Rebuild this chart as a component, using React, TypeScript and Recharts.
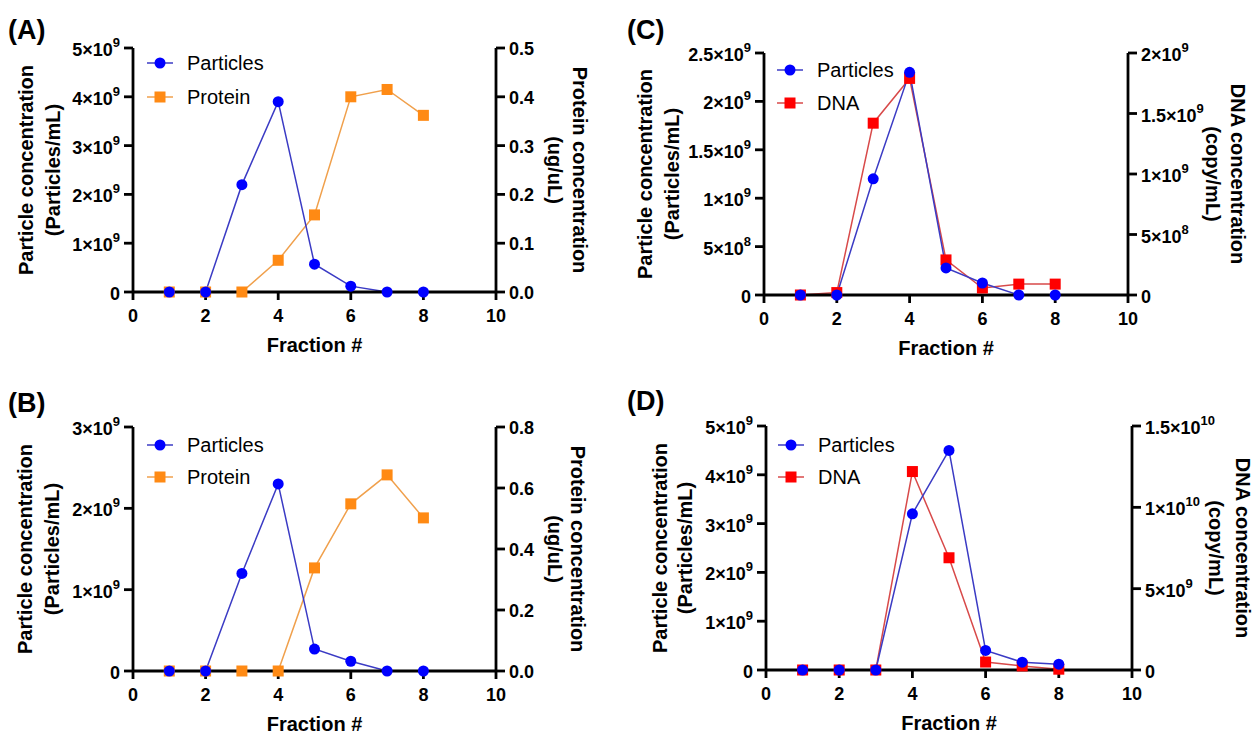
import React from 'react';
import { LineChart, Line, XAxis, YAxis } from 'recharts';

const FONT = '"Liberation Sans", Arial, Helvetica, sans-serif';

// ---------- data ----------
const fractions = [1, 2, 3, 4, 5, 6, 7, 8];
const xTicks = [0, 2, 4, 6, 8, 10];

const aParticles = [0, 0, 2.2e9, 3.9e9, 0.57e9, 0.12e9, 0, 0];
const aProtein = [0, 0, 0, 0.065, 0.158, 0.4, 0.415, 0.362];
const aLeftTicks = [0, 1e9, 2e9, 3e9, 4e9, 5e9];
const aRightTicks = [0, 0.1, 0.2, 0.3, 0.4, 0.5];

const bParticles = [0, 0, 1.2e9, 2.3e9, 0.27e9, 0.12e9, 0, 0];
const bProtein = [0, 0, 0, 0, 0.338, 0.548, 0.643, 0.502];
const bLeftTicks = [0, 1e9, 2e9, 3e9];
const bRightTicks = [0, 0.2, 0.4, 0.6, 0.8];

const cParticles = [0, 0, 1.2e9, 2.3e9, 0.28e9, 0.124e9, 0, 0];
const cDNA = [0, 0.02e9, 1.42e9, 1.79e9, 0.29e9, 0.058e9, 0.09e9, 0.09e9];
const cLeftTicks = [0, 0.5e9, 1e9, 1.5e9, 2e9, 2.5e9];
const cRightTicks = [0, 0.5e9, 1e9, 1.5e9, 2e9];

const dParticles = [0, 0, 0, 3.2e9, 4.5e9, 0.4e9, 0.16e9, 0.12e9];
const dDNA = [0, 0, 0, 1.22e10, 6.9e9, 0.49e9, 0.25e9, 0.05e9];
const dLeftTicks = [0, 1e9, 2e9, 3e9, 4e9, 5e9];
const dRightTicks = [0, 5e9, 1e10, 1.5e10];

const PART_MARK = '#0000ff';
const PART_LINE = '#3b3bc4';
const PROT_MARK = '#ff8a14';
const PROT_LINE = '#f0a04c';
const DNA_MARK = '#ff0000';
const DNA_LINE = '#d84a4a';

function buildRows(p: number[], q: number[]) {
  return fractions.map((f, i) => ({ x: f, p: p[i], q: q[i] }));
}

function sciParts(v: number) {
  if (v === 0) return { base: '0', exp: '' };
  const exp = Math.floor(Math.log10(v) + 1e-9);
  const mant = Math.round((v / Math.pow(10, exp)) * 10) / 10;
  return { base: `${mant}×10`, exp: String(exp) };
}

const YTick = (props: any) => {
  const { x, y, payload, side, fmt } = props;
  const v = payload.value;
  const anchor = side === 'left' ? 'end' : 'start';
  const tx = side === 'left' ? x - 2 : x + 2;
  if (fmt === 'fixed') {
    return (
      <text x={tx} y={y + 1} textAnchor={anchor} dominantBaseline="central" fontFamily={FONT} fontWeight={700} fontSize={18} fill="#000">
        {Number(v).toFixed(1)}
      </text>
    );
  }
  const { base, exp } = sciParts(v);
  return (
    <text x={tx} y={y + 2} textAnchor={anchor} dominantBaseline="central" fontFamily={FONT} fontWeight={700} fontSize={18} fill="#000">
      <tspan>{base}</tspan>
      {exp ? (
        <tspan dy={-8} fontSize={13}>
          {exp}
        </tspan>
      ) : null}
    </text>
  );
};

const XTick = (props: any) => {
  const { x, y, payload } = props;
  return (
    <text x={x} y={y + 14} textAnchor="middle" dominantBaseline="central" fontFamily={FONT} fontWeight={700} fontSize={18} fill="#000">
      {payload.value}
    </text>
  );
};

const circleDot = (props: any) => {
  const { cx, cy, index } = props;
  if (cx == null || cy == null) return <g key={`c${index}`} />;
  return <circle key={`c${index}`} cx={cx} cy={cy} r={5.5} fill={PART_MARK} stroke="none" />;
};

const makeSquareDot = (color: string) => (props: any) => {
  const { cx, cy, index } = props;
  if (cx == null || cy == null) return <g key={`s${index}`} />;
  return <rect key={`s${index}`} x={cx - 5.5} y={cy - 5.5} width={11} height={11} fill={color} stroke="none" />;
};

const TwoLineTitle = (props: any) => {
  const { viewBox, lines, offs, side } = props;
  const vb = viewBox || { x: 0, y: 0, width: 0, height: 0 };
  const edge = side === 'left' ? vb.x + vb.width : vb.x;
  const cy = vb.y + vb.height / 2;
  const rot = side === 'left' ? -90 : 90;
  return (
    <g>
      {lines.map((ln: string, i: number) => {
        const cx = edge + offs[i];
        return (
          <text
            key={i}
            x={cx}
            y={cy}
            transform={`rotate(${rot} ${cx} ${cy})`}
            textAnchor="middle"
            dominantBaseline="central"
            fontFamily={FONT}
            fontWeight={700}
            fontSize={20}
            fill="#000"
          >
            {ln}
          </text>
        );
      })}
    </g>
  );
};

const XTitle = (props: any) => {
  const { viewBox } = props;
  const vb = viewBox || { x: 0, y: 0, width: 0, height: 0 };
  return (
    <text x={vb.x + vb.width / 2} y={vb.y + 53} textAnchor="middle" dominantBaseline="central" fontFamily={FONT} fontWeight={700} fontSize={20} fill="#000">
      Fraction #
    </text>
  );
};

type PanelProps = {
  letter: string;
  letterPos: [number, number];
  rows: any[];
  box: { left: number; top: number; width: number; height: number };
  margin: { top: number; right: number; bottom: number; left: number };
  leftTicks: number[];
  rightTicks: number[];
  rightFmt: 'fixed' | 'sci';
  qName: string;
  qMark: string;
  qLine: string;
  leftTitle: string[];
  leftOffs: number[];
  rightTitle: string[];
  rightOffs: number[];
  legend: { x: number; y: number; gap: number };
};

const LegendItem = ({ x, y, color, lineColor, shape, label }: any) => (
  <div style={{ position: 'absolute', left: x - 15, top: y - 13, height: 26, display: 'flex', alignItems: 'center' }}>
    <svg width={30} height={26} style={{ display: 'block' }}>
      <line x1={2} y1={13} x2={28} y2={13} stroke={lineColor} strokeWidth={1.5} />
      {shape === 'circle' ? (
        <circle cx={15} cy={13} r={5.5} fill={color} />
      ) : (
        <rect x={9.5} y={7.5} width={11} height={11} fill={color} />
      )}
    </svg>
    <span style={{ marginLeft: 12, fontFamily: FONT, fontSize: 20, color: '#000', whiteSpace: 'nowrap', lineHeight: '26px' }}>{label}</span>
  </div>
);

const AXIS_W = 2.8;

const Panel = (p: PanelProps) => {
  const qDot = makeSquareDot(p.qMark);
  const leftMax = p.leftTicks[p.leftTicks.length - 1];
  const rightMax = p.rightTicks[p.rightTicks.length - 1];
  return (
    <>
      <div style={{ position: 'absolute', left: p.box.left, top: p.box.top, width: p.box.width, height: p.box.height }}>
        <LineChart width={p.box.width} height={p.box.height} data={p.rows} margin={p.margin}>
          <XAxis
            dataKey="x"
            type="number"
            domain={[0, 10]}
            ticks={xTicks}
            height={60}
            interval={0}
            tick={<XTick />}
            tickSize={8}
            axisLine={{ stroke: '#000', strokeWidth: AXIS_W }}
            tickLine={{ stroke: '#000', strokeWidth: AXIS_W }}
            label={{ content: (lp: any) => <XTitle {...lp} /> }}
          />
          <YAxis
            yAxisId="left"
            orientation="left"
            width={60}
            domain={[0, leftMax]}
            ticks={p.leftTicks}
            interval={0}
            tick={<YTick side="left" fmt="sci" />}
            tickSize={9}
            axisLine={{ stroke: '#000', strokeWidth: AXIS_W }}
            tickLine={{ stroke: '#000', strokeWidth: AXIS_W }}
            label={{ content: (lp: any) => <TwoLineTitle {...lp} lines={p.leftTitle} offs={p.leftOffs} side="left" /> }}
          />
          <YAxis
            yAxisId="right"
            orientation="right"
            width={60}
            domain={[0, rightMax]}
            ticks={p.rightTicks}
            interval={0}
            tick={<YTick side="right" fmt={p.rightFmt} />}
            tickSize={9}
            axisLine={{ stroke: '#000', strokeWidth: AXIS_W }}
            tickLine={{ stroke: '#000', strokeWidth: AXIS_W }}
            label={{ content: (lp: any) => <TwoLineTitle {...lp} lines={p.rightTitle} offs={p.rightOffs} side="right" /> }}
          />
          <Line
            yAxisId="right"
            type="linear"
            dataKey="q"
            name={p.qName}
            stroke={p.qLine}
            strokeWidth={1.5}
            dot={qDot}
            activeDot={false}
            isAnimationActive={false}
          />
          <Line
            yAxisId="left"
            type="linear"
            dataKey="p"
            name="Particles"
            stroke={PART_LINE}
            strokeWidth={1.5}
            dot={circleDot}
            activeDot={false}
            isAnimationActive={false}
          />
        </LineChart>
      </div>
      <div
        style={{
          position: 'absolute',
          left: p.letterPos[0],
          top: p.letterPos[1],
          fontFamily: FONT,
          fontWeight: 700,
          fontSize: 27,
          lineHeight: '32px',
          color: '#000',
        }}
      >
        {p.letter}
      </div>
      <LegendItem x={p.legend.x} y={p.legend.y} color={PART_MARK} lineColor={PART_LINE} shape="circle" label="Particles" />
      <LegendItem x={p.legend.x} y={p.legend.y + p.legend.gap} color={p.qMark} lineColor={p.qLine} shape="square" label={p.qName} />
    </>
  );
};

export default function App() {
  return (
    <div style={{ position: 'absolute', left: 0, top: 0, width: 1253, height: 734, background: '#fff', overflow: 'hidden' }}>
      <Panel
        letter="(A)"
        letterPos={[8, 14]}
        rows={buildRows(aParticles, aProtein)}
        box={{ left: 0, top: 0, width: 620, height: 360 }}
        margin={{ top: 48, right: 64, bottom: 8, left: 73 }}
        leftTicks={aLeftTicks}
        rightTicks={aRightTicks}
        rightFmt="fixed"
        qName="Protein"
        qMark={PROT_MARK}
        qLine={PROT_LINE}
        leftTitle={['Particle concentration', '(Particles/mL)']}
        leftOffs={[-107, -80]}
        rightTitle={['Protein concentration', '(ug/uL)']}
        rightOffs={[84, 59]}
        legend={{ x: 160, y: 63, gap: 34 }}
      />
      <Panel
        letter="(B)"
        letterPos={[8, 387]}
        rows={buildRows(bParticles, bProtein)}
        box={{ left: 0, top: 370, width: 620, height: 364 }}
        margin={{ top: 57, right: 64, bottom: 3, left: 73 }}
        leftTicks={bLeftTicks}
        rightTicks={bRightTicks}
        rightFmt="fixed"
        qName="Protein"
        qMark={PROT_MARK}
        qLine={PROT_LINE}
        leftTitle={['Particle concentration', '(Particles/mL)']}
        leftOffs={[-108, -81]}
        rightTitle={['Protein concentration', '(ug/uL)']}
        rightOffs={[82, 59]}
        legend={{ x: 160, y: 445, gap: 32 }}
      />
      <Panel
        letter="(C)"
        letterPos={[627, 14]}
        rows={buildRows(cParticles, cDNA)}
        box={{ left: 630, top: 0, width: 623, height: 360 }}
        margin={{ top: 53, right: 65, bottom: 5, left: 74 }}
        leftTicks={cLeftTicks}
        rightTicks={cRightTicks}
        rightFmt="sci"
        qName="DNA"
        qMark={DNA_MARK}
        qLine={DNA_LINE}
        leftTitle={['Particle concentration', '(Particles/mL)']}
        leftOffs={[-119, -92]}
        rightTitle={['DNA concentration', '(copy/mL)']}
        rightOffs={[110, 85]}
        legend={{ x: 790, y: 70, gap: 33 }}
      />
      <Panel
        letter="(D)"
        letterPos={[627, 385]}
        rows={buildRows(dParticles, dDNA)}
        box={{ left: 630, top: 370, width: 623, height: 364 }}
        margin={{ top: 56, right: 61, bottom: 4, left: 76 }}
        leftTicks={dLeftTicks}
        rightTicks={dRightTicks}
        rightFmt="sci"
        qName="DNA"
        qMark={DNA_MARK}
        qLine={DNA_LINE}
        leftTitle={['Particle concentration', '(Particles/mL)']}
        leftOffs={[-106, -81]}
        rightTitle={['DNA concentration', '(copy/mL)']}
        rightOffs={[111, 84]}
        legend={{ x: 791, y: 445, gap: 32 }}
      />
    </div>
  );
}
